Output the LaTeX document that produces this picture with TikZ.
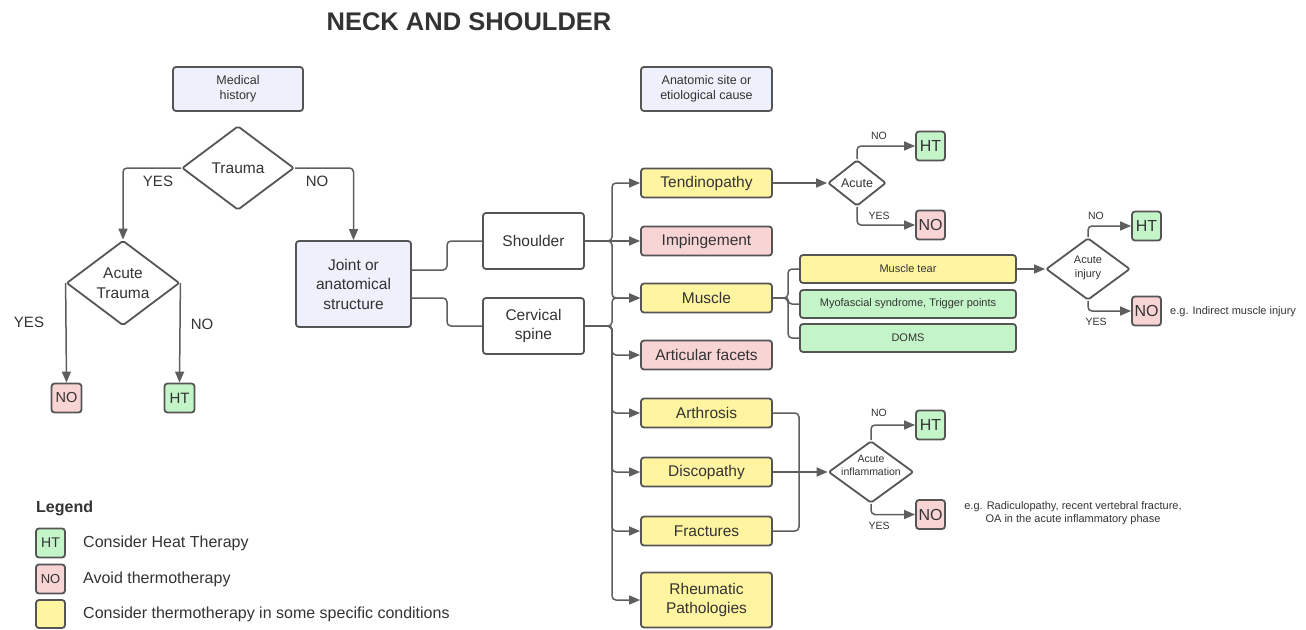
\documentclass[tikz,border=0pt]{standalone}
\usepackage{fontspec}
\setmainfont{Liberation Sans}
\usetikzlibrary{arrows.meta,shapes.geometric,calc}
\definecolor{bord}{HTML}{555555}
\definecolor{lav}{HTML}{EEF0FB}
\definecolor{yel}{HTML}{FFF5A0}
\definecolor{pnk}{HTML}{F9D4D4}
\definecolor{grn}{HTML}{C4F5C8}
\definecolor{txt}{HTML}{333333}
\definecolor{lin}{HTML}{5E5E5E}
\begin{document}
\begin{tikzpicture}[x=1pt,y=-1pt,
  box/.style={draw=bord,line width=1.8pt,rounded corners=3pt,inner sep=0pt,align=center,text=txt},
  dia/.style={diamond,draw=bord,line width=1.8pt,rounded corners=2pt,inner sep=0pt,align=center,text=txt},
  sz/.style 2 args={minimum width=#1,minimum height=#2},
  fbig/.style={font=\fontsize{15.5}{19.5}\selectfont},
  fmed/.style={font=\fontsize{12.5}{15.5}\selectfont},
  fsm/.style={font=\fontsize{11}{13.5}\selectfont},
  fxs/.style={font=\fontsize{10.5}{13.5}\selectfont},
  fht/.style={font=\fontsize{16}{18}\selectfont},
  ln/.style={draw=lin,line width=1.5pt,rounded corners=4pt},
  arr/.style={ln,-{Triangle[length=11pt,width=9pt]}},
  lbl/.style={text=txt,inner sep=0pt}
]
\useasboundingbox (0,0) rectangle (1306,629);

% title
\node[lbl,font=\fontsize{25.5}{30}\selectfont\bfseries] (title) at (469,22) {NECK AND SHOULDER};

% left part
\node[box,fill=lav,sz={130}{44},fmed] (mh) at (238,89) {Medical\\history};
\node[dia,sz={112}{84},fbig] (trauma) at (238,168) {Trauma};
\node[dia,sz={113}{85},fbig] (acute) at (123,283) {Acute\\Trauma};
\node[box,fill=pnk,sz={30}{29},font=\fontsize{14.5}{16}\selectfont] (noA) at (66.5,398) {NO};
\node[box,fill=grn,sz={30}{29},font=\fontsize{15}{16}\selectfont] (htA) at (179.5,398) {HT};
\node[box,fill=lav,sz={115}{86},fbig] (joint) at (353.5,284) {Joint or\\anatomical\\structure};

\draw[arr] (trauma.west) -| (acute.north);
\draw[arr] (trauma.east) -| (joint.north);
\draw[arr] (acute.west) -- (noA.north);
\draw[arr] (acute.east) -- (htA.north);
\node[lbl,font=\fontsize{15}{18}\selectfont] (y1) at (158,181) {YES};
\node[lbl,font=\fontsize{15}{18}\selectfont] (n1) at (317,181) {NO};
\node[lbl,font=\fontsize{15}{18}\selectfont] (y2) at (29,322) {YES};
\node[lbl,font=\fontsize{15}{18}\selectfont] (n2) at (202,324) {NO};

% middle
\node[box,fill=white,sz={101}{56},fbig] (sh) at (533.5,241) {Shoulder};
\node[box,fill=white,sz={101}{56},fbig] (cs) at (533.5,326) {Cervical\\spine};
\draw[ln] (joint.east |- 0,270) -- (447,270) |- (sh.west);
\draw[ln] (joint.east |- 0,298) -- (447,298) |- (cs.west);

\node[box,fill=lav,sz={131}{44},fmed] (anat) at (706.5,89) {Anatomic site or\\etiological cause};
\node[box,fill=yel,sz={131}{29},fbig] (tend) at (706.5,183) {Tendinopathy};
\node[box,fill=pnk,sz={131}{29},fbig] (imp) at (706.5,241) {Impingement};
\node[box,fill=yel,sz={131}{29},fbig] (mus) at (706.5,298) {Muscle};
\node[box,fill=pnk,sz={131}{29},fbig] (artf) at (706.5,355) {Articular facets};
\node[box,fill=yel,sz={131}{29},fbig] (arth) at (706.5,413) {Arthrosis};
\node[box,fill=yel,sz={131}{29},fbig] (disc) at (706.5,472) {Discopathy};
\node[box,fill=yel,sz={131}{29},fbig] (frac) at (706.5,531) {Fractures};
\node[box,fill=yel,sz={131}{55},fbig] (rheu) at (706.5,600) {Rheumatic\\Pathologies};

\draw[arr] (sh.east) -- (612,241) |- (tend.west);
\draw[arr] (sh.east) -- (imp.west);
\draw[arr] (sh.east) -- (612,241) |- (mus.west);
\draw[arr] (cs.east) -- (612,326) |- (mus.west);
\draw[arr] (cs.east) -- (612,326) |- (artf.west);
\draw[arr] (cs.east) -- (612,326) |- (arth.west);
\draw[arr] (cs.east) -- (612,326) |- (disc.west);
\draw[arr] (cs.east) -- (612,326) |- (frac.west);
\draw[arr] (cs.east) -- (612,326) |- (rheu.west);

% tendinopathy branch
\node[dia,sz={58}{46},fmed] (ac1) at (857,183) {Acute};
\node[box,fill=grn,sz={29}{29},fht] (ht1) at (930.5,146) {HT};
\node[box,fill=pnk,sz={29}{29},fht] (no1) at (930.5,225) {NO};
\draw[arr] (tend.east) -- (ac1.west);
\draw[arr] (ac1.north) |- (ht1.west);
\draw[arr] (ac1.south) |- (no1.west);
\node[lbl,fxs] (l1) at (879,136) {NO};
\node[lbl,fxs] (l2) at (879,216) {YES};

% muscle branch
\node[box,fill=yel,sz={216}{28},fsm] (mt) at (908,269) {Muscle tear};
\node[box,fill=grn,sz={216}{28},fsm] (myo) at (908,304) {Myofascial syndrome, Trigger points};
\node[box,fill=grn,sz={216}{28},fsm] (doms) at (908,338) {DOMS};
\draw[ln] (mus.east) -- (788,298) |- (mt.west);
\draw[ln] (mus.east) -- (788,298) |- (myo.west);
\draw[ln] (mus.east) -- (788,298) |- (doms.west);
\node[dia,sz={84}{62}] (ai) at (1088,269) {};
\node[lbl,fsm,align=center] (ait) at (1088,268) {Acute\\injury};
\node[box,fill=grn,sz={29}{29},fht] (ht2) at (1146.5,226) {HT};
\node[box,fill=pnk,sz={29}{29},fht] (no2) at (1146.5,311) {NO};
\draw[arr] (mt.east) -- (ai.west);
\draw[arr] (ai.north) |- (ht2.west);
\draw[arr] (ai.south) |- (no2.west);
\node[lbl,fxs] (l3) at (1096,216) {NO};
\node[lbl,fxs] (l4) at (1096,322) {YES};
\node[lbl,font=\fontsize{11}{13.5}\selectfont,anchor=west] (eg1) at (1170,312) {e.g. Indirect muscle injury};

% inflammation branch
\node[dia,sz={85}{62}] (ainf) at (871,472) {};
\node[lbl,fxs,align=center] (ainft) at (871,465.5) {Acute\\inflammation};
\node[box,fill=grn,sz={29}{29},fht] (ht3) at (930.5,425) {HT};
\node[box,fill=pnk,sz={29}{29},fht] (no3) at (930.5,514.5) {NO};
\draw[ln] (arth.east) -- (799,413) -- (799,531) -- (frac.east);
\draw[arr] (disc.east) -- (ainf.west);
\draw[arr] (ainf.north) |- (ht3.west);
\draw[arr] (ainf.south) |- (no3.west);
\node[lbl,fxs] (l5) at (879,413) {NO};
\node[lbl,fxs] (l6) at (879,526) {YES};
\node[lbl,font=\fontsize{11}{13.5}\selectfont,align=center] (eg2) at (1073,513) {e.g. Radiculopathy, recent vertebral fracture,\\OA in the acute inflammatory phase};

% legend
\node[lbl,anchor=west,font=\fontsize{16}{18}\selectfont\bfseries] (leg) at (36,508) {Legend};
\node[box,fill=grn,sz={29}{29},font=\fontsize{14}{16}\selectfont] (lht) at (50.5,543) {HT};
\node[box,fill=pnk,sz={29}{29},font=\fontsize{13}{16}\selectfont] (lno) at (50.5,579) {NO};
\node[box,fill=yel,sz={29}{28}] (lyel) at (50.5,614) {};
\node[lbl,anchor=west,font=\fontsize{16}{18}\selectfont] (t1) at (83,543) {Consider Heat Therapy};
\node[lbl,anchor=west,font=\fontsize{16}{18}\selectfont] (t2) at (83,579) {Avoid thermotherapy};
\node[lbl,anchor=west,font=\fontsize{16}{18}\selectfont] (t3) at (83,614) {Consider thermotherapy in some specific conditions};
\end{tikzpicture}
\end{document}
